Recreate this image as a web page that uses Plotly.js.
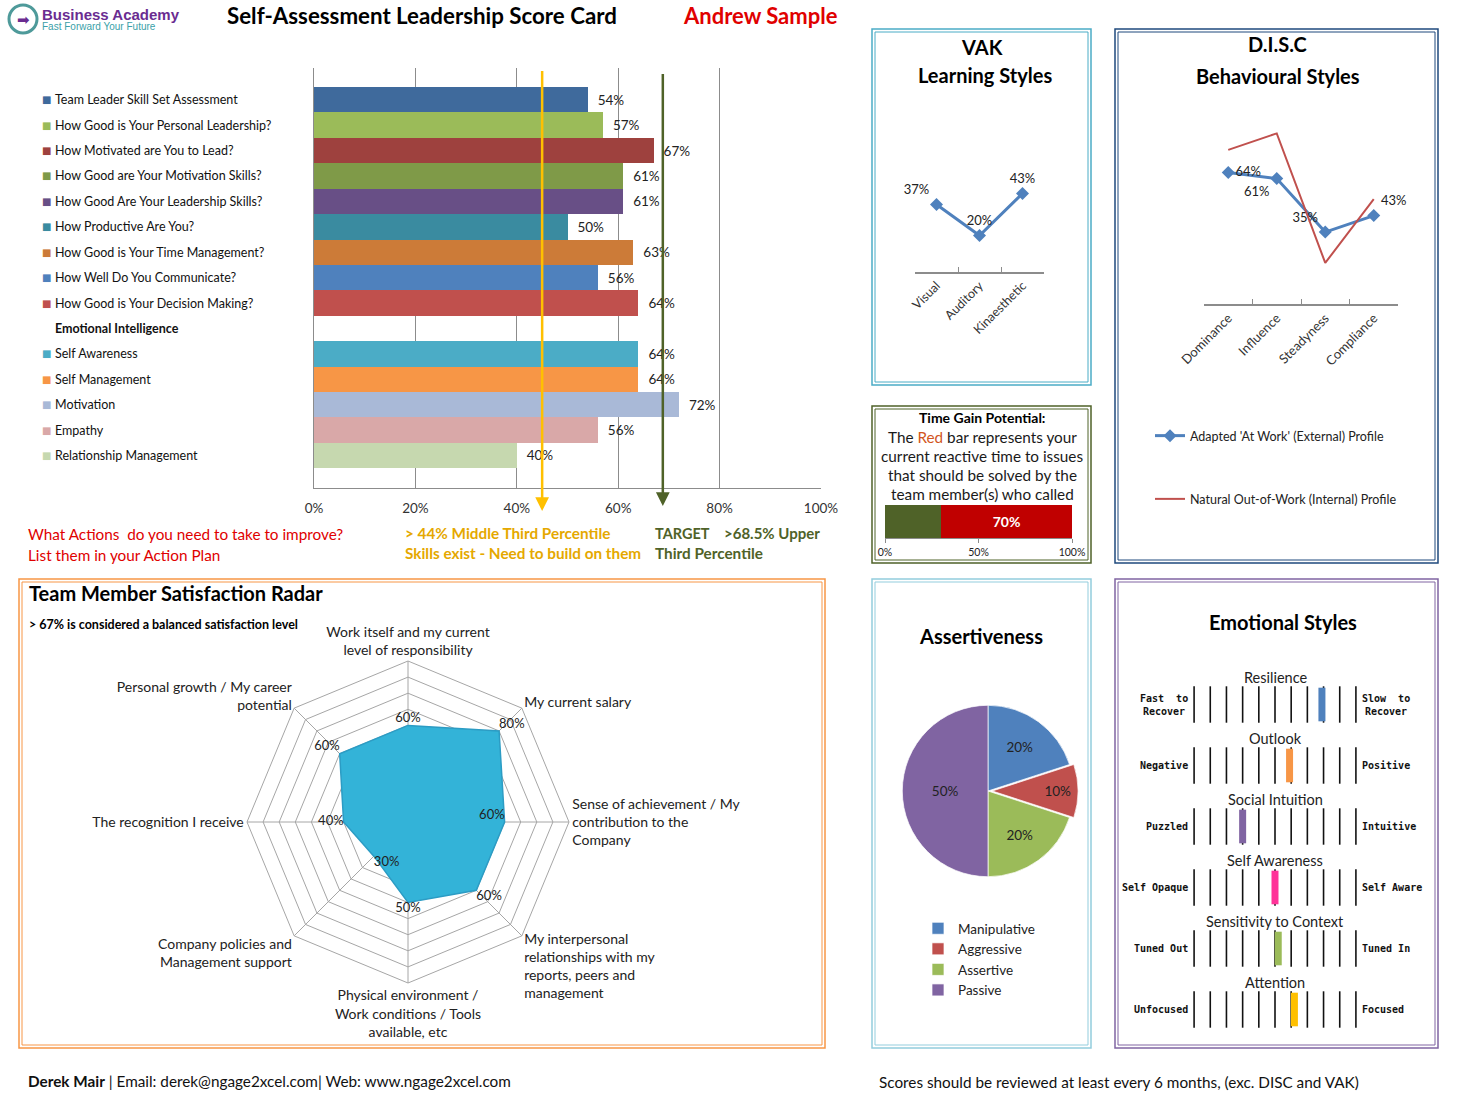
<!DOCTYPE html>
<html><head><meta charset="utf-8">
<script src="https://cdn.plot.ly/plotly-3.0.1.min.js"></script>
<style>html,body{margin:0;padding:0;background:#fff}#chart{width:1467px;height:1093px}</style>
</head><body><div id="chart"></div>
<script>
// ---------- DATA ----------
const barLabels = ['Team Leader Skill Set Assessment','How Good is Your Personal Leadership?','How Motivated are You to Lead?','How Good are Your Motivation Skills?','How Good Are Your Leadership Skills?','How Productive Are You?','How Good is Your Time Management?','How Well Do You Communicate?','How Good is Your Decision Making?','Emotional Intelligence','Self Awareness','Self Management','Motivation','Empathy','Relationship Management'];
const barValues = [54,57,67,61,61,50,63,56,64,null,64,64,72,56,40];
const barColors = ['#3F6A9C','#9BBB59','#9E413E','#7F9A48','#684F86','#3A8BA0','#CC7B38','#4F81BD','#C0504D','rgba(0,0,0,0)','#4BACC6','#F79646','#A9B9D7','#D9A8A8','#C6D8AF'];
const barTicks = [0,20,40,60,80,100];
const thresholds = [45, 68.8];
const thresholdColors = ['#FFC000','#4F6228'];

const vakCats = ['Visual','Auditory','Kinaesthetic'];
const vakValues = [37,20,43];

const discCats = ['Dominance','Influence','Steadyness','Compliance'];
const discAdapted = [64,61,35,43];
const discNatural = [75,83,20,51];
const discNames = ["Adapted 'At Work' (External) Profile","Natural Out-of-Work (Internal) Profile"];

const timeLabels = ['Team member time','Reactive time'];
const timeValues = [30,70];
const timeTicks = [0,50,100];

const radarCats = ['Work itself and my current<br>level of responsibility','My current salary','Sense of achievement / My<br>contribution to the<br>Company','My interpersonal<br>relationships with my<br>reports, peers and<br>management','Physical environment /<br>Work conditions / Tools<br>available, etc','Company policies and<br>Management support','The recognition I receive','Personal growth / My career<br>potential'];
const radarValues = [60,80,60,60,50,30,40,60];

const pieLabels = ['Manipulative','Aggressive','Assertive','Passive'];
const pieValues = [20,10,20,50];
const pieColors = ['#4F81BD','#C0504D','#9BBB59','#8064A2'];

const emoRows = ['Resilience','Outlook','Social Intuition','Self Awareness','Sensitivity to Context','Attention'];
const emoLeft = ['Fast  to<br>Recover','Negative','Puzzled','Self Opaque','Tuned Out','Unfocused'];
const emoRight = ['Slow  to<br>Recover','Positive','Intuitive','Self Aware','Tuned In','Focused'];
const emoValues = [7.9,5.9,3.0,5.0,5.2,6.2];
const emoColors = ['#4F81BD','#F79646','#8064A2','#FF3399','#9BBB59','#FFC000'];
const emoScale = [0,1,2,3,4,5,6,7,8,9,10];

// ---------- HELPERS ----------
const W=1467,H=1093;
const fx=p=>p/W, fy=p=>1-p/H;
const FONT='Lato, "Open Sans", "DejaVu Sans", sans-serif';
function txt(x,y,text,size,color,anchor,extra){
  return Object.assign({xref:'paper',yref:'paper',x:fx(x),y:fy(y),text:text,showarrow:false,
    xanchor:anchor||'center',yanchor:'middle',font:{family:FONT,size:size||14,color:color||'#000'}},extra||{});
}
function box(x0,y0,x1,y1,color,w){
  return [
    {type:'rect',xref:'paper',yref:'paper',x0:fx(x0),x1:fx(x1),y0:fy(y0),y1:fy(y1),line:{color:color,width:w||1.5}},
    {type:'rect',xref:'paper',yref:'paper',x0:fx(x0+3),x1:fx(x1-3),y0:fy(y0+3),y1:fy(y1-3),line:{color:color,width:1}}
  ];
}

// ---------- TRACES ----------
const traces = [];
traces.push({type:'bar',orientation:'h',x:barValues,y:barLabels,xaxis:'x',yaxis:'y',
  marker:{color:barColors},text:barValues.map(v=>v==null?'':'\u00a0\u00a0'+v+'%'),textposition:'outside',
  textfont:{family:FONT,size:13.5,color:'#222'},cliponaxis:false,showlegend:false,hoverinfo:'x+y'});

traces.push({type:'scatter',mode:'lines+markers+text',x:vakCats,y:vakValues,xaxis:'x2',yaxis:'y2',
  line:{color:'#4F81BD',width:3},marker:{symbol:'diamond',size:10,color:'#4F81BD'},
  text:vakValues.map(v=>v+'%'),textposition:['top left','top center','top center'],
  textfont:{family:FONT,size:13,color:'#222'},cliponaxis:false,showlegend:false});

traces.push({type:'scatter',mode:'lines+markers+text',x:discCats,y:discAdapted,xaxis:'x3',yaxis:'y3',name:discNames[0],legendgroup:'a',
  line:{color:'#4F81BD',width:3},marker:{symbol:'diamond',size:10,color:'#4F81BD'},
  text:discAdapted.map(v=>v+'%'),textposition:['middle right','bottom left','top left','top right'],
  textfont:{family:FONT,size:13,color:'#222'},cliponaxis:false});
traces.push({type:'scatter',mode:'lines',x:discCats,y:discNatural,xaxis:'x3',yaxis:'y3',name:discNames[1],legendgroup:'b',
  line:{color:'#C0504D',width:2},cliponaxis:false});

traces.push({type:'bar',orientation:'h',x:[timeValues[0]],y:['t'],xaxis:'x4',yaxis:'y4',name:timeLabels[0],
  marker:{color:'#4F6228'},showlegend:false,text:[''],hoverinfo:'x'});
traces.push({type:'bar',orientation:'h',x:[timeValues[1]],y:['t'],xaxis:'x4',yaxis:'y4',name:timeLabels[1],
  marker:{color:'#C00000'},showlegend:false,text:[timeValues[1]+'%'],textposition:'inside',insidetextanchor:'middle',
  textfont:{family:FONT,size:14,color:'#fff',weight:'bold'},hoverinfo:'x'});

traces.push({type:'scatterpolar',r:radarValues.concat([radarValues[0]]),theta:radarCats.concat([radarCats[0]]),
  mode:'lines',fill:'toself',fillcolor:'#33B3D8',line:{color:'#2C9CC4',width:1.5},showlegend:false,hoverinfo:'r+theta'});
traces.push({type:'scatterpolar',r:radarValues,theta:radarCats,mode:'text',
  text:radarValues.map(v=>v+'%'),textposition:['top center','top right','top left','bottom right','bottom center','bottom right','middle left','top left'],
  textfont:{family:FONT,size:13,color:'#222'},showlegend:false,hoverinfo:'skip',cliponaxis:false});

traces.push({type:'pie',labels:pieLabels,values:pieValues,marker:{colors:pieColors,line:{color:'rgba(255,255,255,0.7)',width:1}},
  sort:false,direction:'clockwise',rotation:0,pull:[0,0.05,0,0],textinfo:'percent',textposition:'inside',
  insidetextorientation:'horizontal',textfont:{family:FONT,size:13.5,color:'#222'},
  domain:{x:[fx(898),fx(1078)],y:[fy(881),fy(701)]},legend:'legend2',showlegend:true});

// emotional styles scale
const sx=[],sy=[];
emoRows.forEach(r=>emoScale.forEach(s=>{sx.push(s);sy.push(r);}));
traces.push({type:'scatter',mode:'markers',x:sx,y:sy,xaxis:'x5',yaxis:'y5',
  marker:{symbol:'line-ns-open',size:26,color:'#111',line:{width:1.6,color:'#111'}},showlegend:false,hoverinfo:'skip',cliponaxis:false});
traces.push({type:'scatter',mode:'markers',x:emoValues,y:emoRows,xaxis:'x5',yaxis:'y5',
  marker:{symbol:'line-ns-open',size:24,color:emoColors,line:{width:7,color:emoColors}},showlegend:false,cliponaxis:false});

// ---------- ANNOTATIONS ----------
const ann = [];
ann.push(txt(23,19,'➡',15,'#6A2C91'));
ann.push(txt(40,14,'<b>Business Academy</b>',15,'#6A2C91','left',{font:{family:'"Liberation Sans", Arial, sans-serif',size:15,color:'#6A2C91'}}));
ann.push(txt(40,27,'Fast Forward Your Future',10.5,'#3A9FA8','left',{font:{family:'"Liberation Sans", Arial, sans-serif',size:10,color:'#3A9FA8'}}));
ann.push(txt(422,15,'<b>Self-Assessment Leadership Score Card</b>',22.3,'#000'));
ann.push(txt(760,15,'<b>Andrew Sample</b>',22,'#E00000'));

barLabels.forEach((l,i)=>{
  if(barValues[i]==null){
    ann.push({xref:'paper',yref:'y',x:fx(53),y:i,text:'<b>'+l+'</b>',showarrow:false,xanchor:'left',yanchor:'middle',font:{family:FONT,size:12.5,color:'#111'}});
  } else {
    ann.push({xref:'paper',yref:'y',x:fx(40),y:i,text:'■',showarrow:false,xanchor:'left',yanchor:'middle',font:{family:'DejaVu Sans',size:10,color:barColors[i]}});
    ann.push({xref:'paper',yref:'y',x:fx(53),y:i,text:l,showarrow:false,xanchor:'left',yanchor:'middle',font:{family:FONT,size:12.5,color:'#111'}});
  }
});
const arrowTop=[62,65], arrowBottom=[511,506];
thresholds.forEach((t,i)=>{
  ann.push({xref:'x',yref:'paper',x:t,y:fy(arrowBottom[i]),ax:0,ay:-(arrowBottom[i]-arrowTop[i]),axref:'pixel',ayref:'pixel',
    text:' ',showarrow:true,arrowhead:2,arrowsize:1.1,arrowwidth:2.5,arrowcolor:thresholdColors[i],standoff:0,startstandoff:0});
});
ann.push(txt(26,534,'What Actions&nbsp; do you need to take to improve?',15.3,'#E00000','left'));
ann.push(txt(26,555,'List them in your Action Plan',15.3,'#E00000','left'));
ann.push(txt(403,533,'<b>&gt; 44% Middle Third Percentile</b>',15.3,'#E5A800','left'));
ann.push(txt(403,553,'<b>Skills exist - Need to build on them</b>',15.3,'#E5A800','left'));
ann.push(txt(653,533,'<b>TARGET</b>',14.5,'#4F6228','left'));
ann.push(txt(722,533,'<b>&gt;68.5% Upper</b>',15,'#4F6228','left'));
ann.push(txt(653,553,'<b>Third Percentile</b>',15.3,'#4F6228','left'));

ann.push(txt(982,47,'<b>VAK</b>',20));
ann.push(txt(985,75,'<b>Learning Styles</b>',20));
ann.push(txt(1277,44,'<b>D.I.S.C</b>',20));
ann.push(txt(1278,76,'<b>Behavioural Styles</b>',20));

ann.push(txt(982,418,'<b>Time Gain Potential:</b>',14,'#000'));
ann.push(txt(982,437,'The <span style="color:#D2561E">Red</span> bar represents your',15.3,'#1a1a1a'));
ann.push(txt(982,456,'current reactive time to issues',15.3,'#1a1a1a'));
ann.push(txt(982,475,'that should be solved by the',15.3,'#1a1a1a'));
ann.push(txt(982,494,'team member(s) who called',15.3,'#1a1a1a'));

ann.push(txt(27,593,'<b>Team Member Satisfaction Radar</b>',20,'#000','left'));
ann.push(txt(27,624,'<b>&gt; 67% is considered a balanced satisfaction level</b>',12.5,'#000','left'));

ann.push(txt(981,636,'<b>Assertiveness</b>',20));
ann.push(txt(1283,622,'<b>Emotional Styles</b>',20));

const monoFont={family:'"DejaVu Sans Mono", monospace',size:10,color:'#111'};
emoRows.forEach((r,i)=>{
  ann.push({xref:'x5',yref:'y5',x:5,y:i,yshift:27,text:r,showarrow:false,xanchor:'center',yanchor:'middle',font:{family:FONT,size:14.5,color:'#222'}});
  ann.push({xref:'x5',yref:'y5',x:0,y:i,xshift:-4,text:'<b>'+emoLeft[i]+'</b>',showarrow:false,xanchor:'right',yanchor:'middle',align:'center',font:monoFont});
  ann.push({xref:'x5',yref:'y5',x:10,y:i,xshift:4,text:'<b>'+emoRight[i]+'</b>',showarrow:false,xanchor:'left',yanchor:'middle',align:'center',font:monoFont});
});

ann.push(txt(26,1081,'<b>Derek Mair</b> | Email: derek@ngage2xcel.com| Web: www.ngage2xcel.com',15.3,'#111','left'));
ann.push(txt(877,1082,'Scores should be reviewed at least every 6 months, (exc. DISC and VAK)',15.3,'#111','left'));

// ---------- SHAPES ----------
let shapes = [];
shapes = shapes.concat(box(872,29,1091,385,'#4BACC6'));
shapes = shapes.concat(box(872,406,1091,563,'#4F6228'));
shapes = shapes.concat(box(1115,29,1438,563,'#1F497D'));
shapes = shapes.concat(box(19,579,825,1048,'#F79646'));
shapes = shapes.concat(box(872,579,1091,1048,'#93CDDD'));
shapes = shapes.concat(box(1115,579,1438,1048,'#8064A2'));
shapes.push({type:'circle',xref:'paper',yref:'paper',x0:fx(9),x1:fx(37),y0:fy(33),y1:fy(5),line:{color:'#4E9A9A',width:3},fillcolor:'#fff',layer:'below'});

const axFont={family:FONT,size:13.5,color:'#333'};
const layout = {
  width:W,height:H,margin:{l:0,r:0,t:0,b:0},paper_bgcolor:'#fff',plot_bgcolor:'rgba(0,0,0,0)',
  font:{family:FONT,color:'#222'},barmode:'stack',bargap:0,showlegend:true,hovermode:'closest',
  xaxis:{domain:[fx(314),fx(821)],range:[0,100],tickmode:'array',tickvals:barTicks,ticktext:barTicks.map(v=>v+'%'),showgrid:true,gridcolor:'#8C8C8C',
    zeroline:false,showline:true,linecolor:'#8C8C8C',ticks:'',tickfont:axFont,ticklabelstandoff:8,fixedrange:true},
  yaxis:{domain:[fy(488),fy(68)],type:'category',categoryarray:barLabels,range:[15.28,-1.25],showticklabels:false,
    showgrid:false,zeroline:false,showline:true,linecolor:'#8C8C8C',ticks:''},
  xaxis2:{domain:[fx(915),fx(1044)],anchor:'y2',range:[-0.5,2.5],type:'category',showline:true,linecolor:'#8C8C8C',linewidth:1.5,
    ticks:'inside',tickson:'boundaries',ticklen:5,tickcolor:'#8C8C8C',tickangle:-45,tickfont:{family:FONT,size:12.5,color:'#333'},showgrid:false},
  yaxis2:{domain:[fy(272),fy(126)],anchor:'x2',range:[0,80],visible:false},
  xaxis3:{domain:[fx(1204),fx(1398)],anchor:'y3',range:[-0.5,3.5],type:'category',showline:true,linecolor:'#8C8C8C',linewidth:1.5,
    ticks:'inside',tickson:'boundaries',ticklen:5,tickcolor:'#8C8C8C',tickangle:-45,tickfont:{family:FONT,size:13,color:'#333'},showgrid:false},
  yaxis3:{domain:[fy(304),fy(119)],anchor:'x3',range:[0,90],visible:false},
  xaxis4:{domain:[fx(885),fx(1072)],anchor:'y4',range:[0,100],tickmode:'array',tickvals:timeTicks,ticktext:timeTicks.map(v=>v+'%'),showgrid:false,zeroline:false,
    showline:true,linecolor:'#8C8C8C',ticks:'outside',ticklen:4,tickcolor:'#8C8C8C',tickfont:{family:FONT,size:10.5,color:'#222'}},
  yaxis4:{domain:[fy(538),fy(505)],anchor:'x4',visible:false,type:'category'},
  xaxis5:{domain:[fx(1186),fx(1364)],anchor:'y5',range:[-0.5,10.5],visible:false},
  yaxis5:{domain:[fy(1040),fy(674)],anchor:'x5',type:'category',categoryarray:emoRows,range:[5.5,-0.5],visible:false},
  polar:{domain:{x:[fx(247),fx(569)],y:[fy(983),fy(661)]},gridshape:'linear',bgcolor:'rgba(0,0,0,0)',
    radialaxis:{range:[0,100],dtick:10,showticklabels:false,ticks:'',showline:false,gridcolor:'#A6A6A6'},
    angularaxis:{direction:'clockwise',rotation:90,categoryarray:radarCats,gridcolor:'#A6A6A6',linecolor:'#A6A6A6',
      tickfont:{family:FONT,size:14,color:'#222'},ticks:''}},
  legend:{x:fx(1150),y:fy(421),xanchor:'left',yanchor:'top',font:{family:FONT,size:12.5,color:'#222'},
    tracegroupgap:44,itemwidth:30,bgcolor:'rgba(0,0,0,0)',traceorder:'grouped'},
  legend2:{x:fx(918),y:fy(913),xanchor:'left',yanchor:'top',font:{family:FONT,size:13.5,color:'#222'},bgcolor:'rgba(0,0,0,0)',itemwidth:30},
  annotations:ann,shapes:shapes
};
Plotly.newPlot('chart',traces,layout,{displayModeBar:false,staticPlot:true});
</script></body></html>
